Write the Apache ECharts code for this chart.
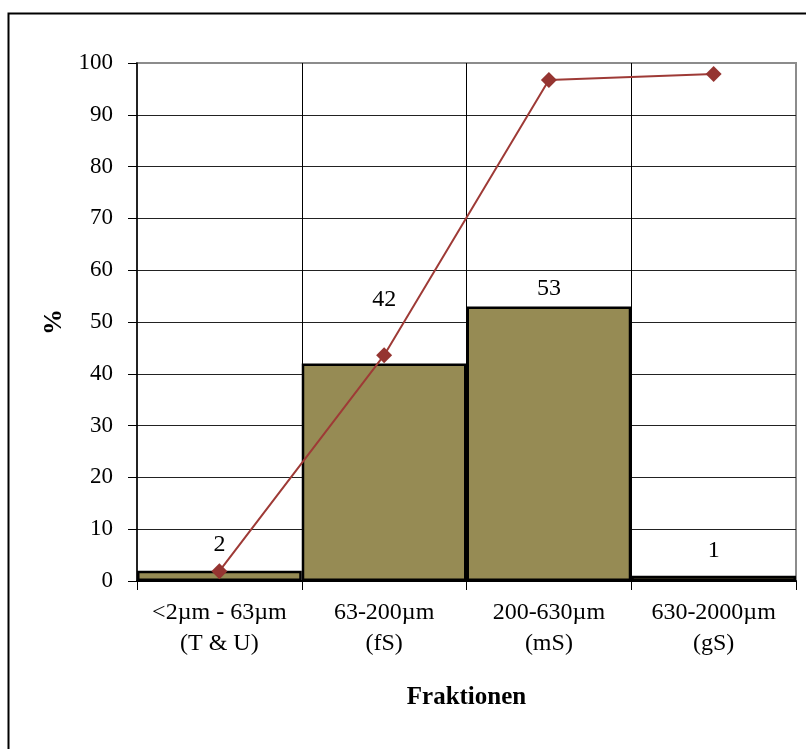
<!DOCTYPE html>
<html>
<head>
<meta charset="utf-8">
<script src="https://cdn.jsdelivr.net/npm/echarts@6/dist/echarts.min.js"></script>
<style>
  html, body { margin: 0; padding: 0; background: #fff; }
  #chart { width: 806px; height: 749px; }
</style>
</head>
<body>
<div id="chart"></div>
<script>
// Grain-size fractions and their share in percent
const categories = ['<2µm - 63µm\n(T & U)', '63-200µm\n(fS)', '200-630µm\n(mS)', '630-2000µm\n(gS)'];
const fractionShare = [2, 42, 53, 1];
const cumulativeShare = [1.9, 43.6, 96.7, 97.9];
const yTicks = { min: 0, max: 100, step: 10 };

// Per-bar distance of the value label above the bar top
const labelGaps = [14, 52, 6, 13];

const serif = '"Liberation Serif", "Times New Roman", serif';

const chart = echarts.init(document.getElementById('chart'), null, { renderer: 'canvas' });

chart.setOption({
  backgroundColor: '#fff',
  animation: false,
  textStyle: { fontFamily: serif, color: '#000' },
  graphic: [{
    type: 'rect',
    left: 6, top: 11,
    shape: { width: 900, height: 900 },
    style: { fill: 'none', stroke: '#000', lineWidth: 2 },
    silent: true
  }],
  grid: {
    left: 137, top: 63, width: 659, height: 518,
    show: true, borderColor: '#8c8c8c', borderWidth: 2, backgroundColor: 'transparent'
  },
  xAxis: {
    type: 'category',
    data: categories,
    boundaryGap: true,
    name: 'Fraktionen',
    nameLocation: 'middle',
    nameGap: 104,
    nameTextStyle: { fontFamily: serif, fontSize: 25, fontWeight: 'bold', color: '#000' },
    axisLine: { lineStyle: { color: '#000', width: 2 } },
    axisTick: { show: true, interval: 0, length: 9, lineStyle: { color: '#000', width: 1 } },
    axisLabel: { interval: 0, fontFamily: serif, fontSize: 24, color: '#000', lineHeight: 31, margin: 16 },
    splitLine: { show: true, interval: 0, showMinLine: false, showMaxLine: false, lineStyle: { color: '#000', width: 1 } }
  },
  yAxis: {
    type: 'value',
    min: yTicks.min, max: yTicks.max, interval: yTicks.step,
    name: '%',
    nameLocation: 'middle',
    nameGap: 63,
    nameRotate: 90,
    nameTextStyle: { fontFamily: serif, fontSize: 26, fontWeight: 'bold', color: '#000' },
    axisLine: { show: true, lineStyle: { color: '#000', width: 1.5 } },
    axisTick: { show: true, length: 9, lineStyle: { color: '#000', width: 1 } },
    axisLabel: { fontFamily: serif, fontSize: 23, color: '#000', margin: 24 },
    splitLine: { show: true, showMinLine: false, showMaxLine: false, lineStyle: { color: '#222', width: 1 } }
  },
  series: [
    {
      type: 'bar',
      data: fractionShare.map((v, i) => ({ value: v, label: { distance: labelGaps[i] } })),
      barWidth: '100%',
      barCategoryGap: 0,
      itemStyle: { color: '#968b54', borderColor: '#000', borderWidth: 2.5 },
      label: {
        show: true, position: 'top',
        fontFamily: serif, fontSize: 24, color: '#000'
      },
      z: 2
    },
    {
      type: 'line',
      data: cumulativeShare,
      symbol: 'diamond',
      symbolSize: 16,
      lineStyle: { color: '#9e3a36', width: 2 },
      itemStyle: { color: '#953431' },
      z: 3
    }
  ]
});
</script>
</body>
</html>
